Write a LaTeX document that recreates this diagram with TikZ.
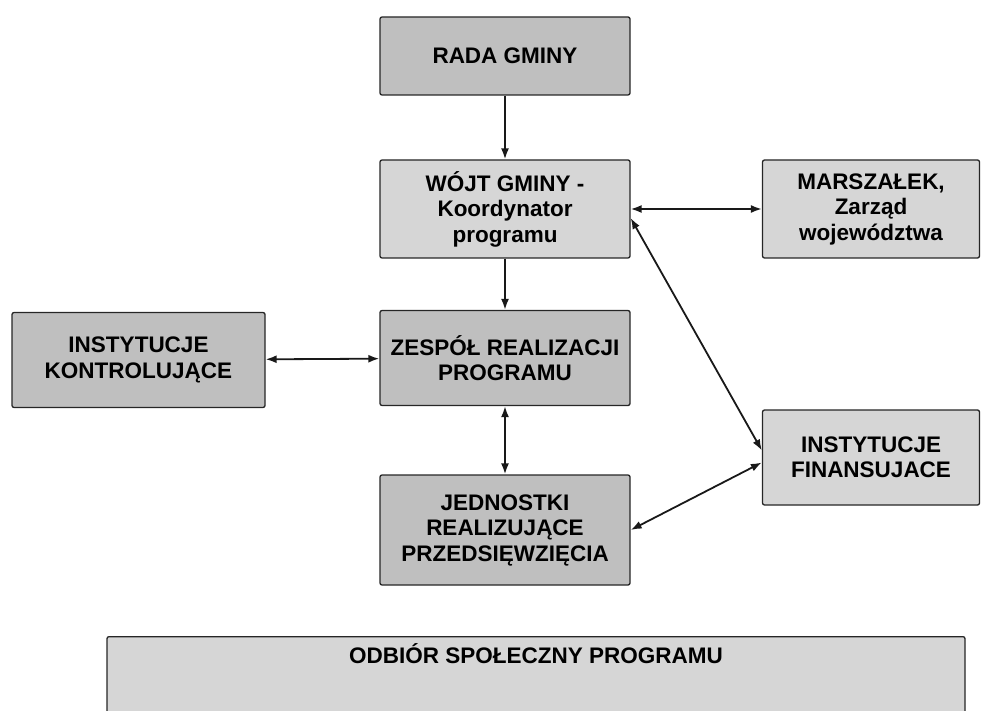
\documentclass[tikz,border=0pt]{standalone}
\usepackage{fontspec}
\setmainfont{Liberation Sans}
\usetikzlibrary{arrows.meta}
\begin{document}
\begin{tikzpicture}[x=1pt, y=-1pt,
    box/.style={draw=black!85, line width=1.3pt, fill=black!25, rounded corners=2pt,
                align=center, inner sep=3pt,
                font=\fontsize{22.5}{25.5}\selectfont\bfseries},
    lightbox/.style={box, fill=black!16},
    link/.style={line width=1.8pt, black!90, -{Latex[length=11pt,width=8pt]}},
    both/.style={link, {Latex[length=11pt,width=8pt]}-{Latex[length=11pt,width=8pt]}}]
    \useasboundingbox (0,0) rectangle (982,711);
    \node[box, minimum width=250pt, minimum height=78pt] (rada) at (505,56) {RADA GMINY};
    \node[lightbox, minimum width=250pt, minimum height=98pt] (wojt) at (505,209)
        {WÓJT GMINY -\\Koordynator\\programu};
    \node[lightbox, minimum width=217pt, minimum height=98pt] (marsz) at (871,209)
        {MARSZAŁEK,\\Zarząd\\województwa};
    \node[box, minimum width=253pt, minimum height=95pt] (kontrol) at (138.5,360)
        {INSTYTUCJE\\KONTROLUJĄCE};
    \node[box, minimum width=250pt, minimum height=95pt] (zespol) at (505,358)
        {ZESPÓŁ REALIZACJI\\PROGRAMU};
    \node[lightbox, minimum width=217pt, minimum height=95pt] (finans) at (871,457.5)
        {INSTYTUCJE\\FINANSUJACE};
    \node[box, minimum width=250pt, minimum height=110pt] (jedn) at (505,530)
        {JEDNOSTKI\\REALIZUJĄCE\\PRZEDSIĘWZIĘCIA};
    \node[lightbox, anchor=north, minimum width=858pt, inner ysep=7pt, text depth=46pt]
        (odbior) at (536,636) {ODBIÓR SPOŁECZNY PROGRAMU};

    \draw[link] (rada) -- (wojt);
    \draw[link] (wojt) -- (zespol);
    \draw[both] (zespol) -- (jedn);
    \draw[both] (kontrol) -- (zespol);
    \draw[both] (wojt) -- (marsz);
    \draw[both] ([yshift=-9pt]wojt.east) -- ([yshift=7pt]finans.west);
    \draw[both] ([yshift=-5pt]finans.west) -- (jedn.east);
\end{tikzpicture}
\end{document}
